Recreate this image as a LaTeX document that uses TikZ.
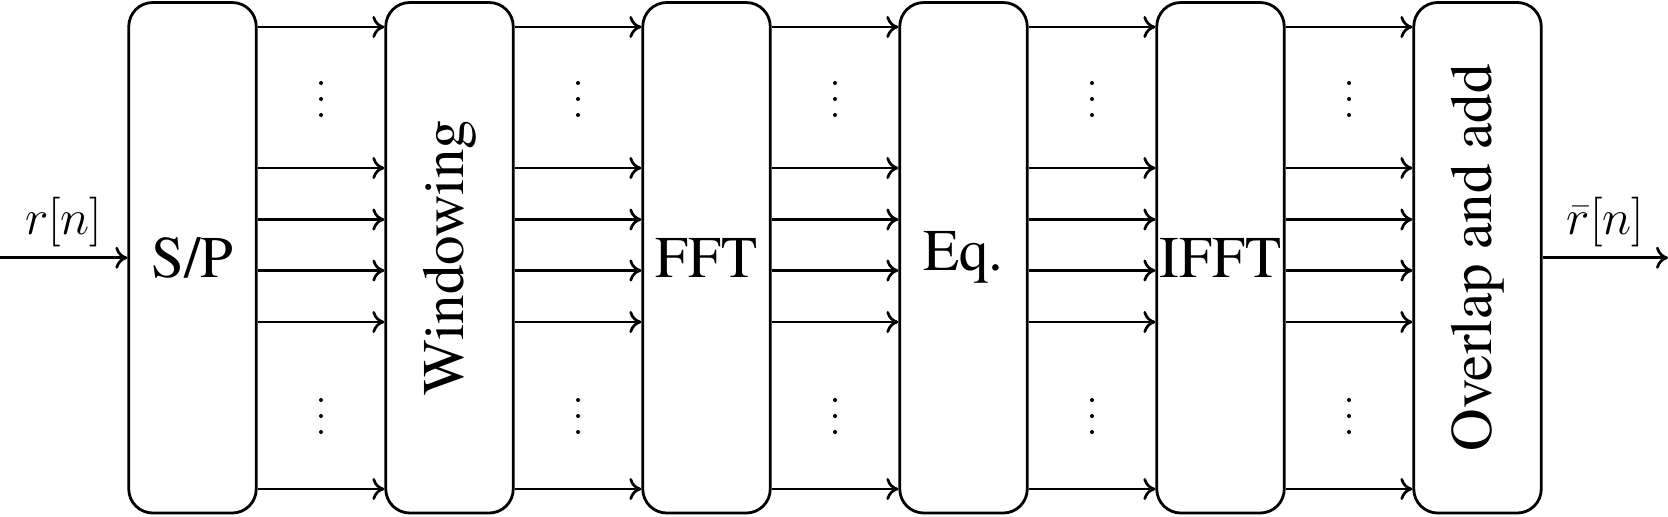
\documentclass[tikz,border=0pt]{standalone}
\usepackage{fontspec}
\setmainfont{texgyretermes-regular.otf}
\usetikzlibrary{arrows.meta}
\tikzset{
  blk/.style={draw, line width=1.4pt, rounded corners=12pt, inner sep=0pt,
    minimum width=63.75pt, minimum height=255.25pt,
    font=\rmfamily\fontsize{29.5}{34}\selectfont},
  arr/.style={line width=1.35pt, -{Computer Modern Rightarrow[length=6pt,width=11pt,line width=1.35pt]}},
  lab/.style={font=\fontsize{28.5}{33}\selectfont, inner xsep=0pt, inner ysep=5pt},
  dotc/.style={fill=black, draw=none, circle, minimum size=2pt, inner sep=0pt}
}
\begin{document}
\begin{tikzpicture}[x=0.5pt, y=-0.5pt]
\useasboundingbox (0,0) rectangle (1668,516);
\node[blk] (b0) at (192.5,257.75) {S/P};
\node[blk] (b1) at (449.5,257.75) {\rotatebox{90}{Windowing}};
\node[blk] (b2) at (706.5,257.75) {FFT};
\node[blk] (b3) at (963.5,257.75) {Eq.};
\node[blk] (b4) at (1220.5,257.75) {IFFT};
\node[blk] (b5) at (1477.5,257.75) {\rotatebox{90}{Overlap and add}};
\coordinate (in) at (0,257.75);
\coordinate (out) at (1668,257.75);
\draw[arr] (in) -- node[lab, above] {$r[n]$} (b0.west);
\draw[arr] (b5.east) -- node[lab, above] {$\bar{r}[n]$} (out);
\foreach \a/\b [count=\i from 0] in {b0/b1,b1/b2,b2/b3,b3/b4,b4/b5}{
  \foreach \y in {27,168,219.5,270.5,322,489}{
    \draw[arr] (\a.east |- 0,\y) -- (\b.west |- 0,\y);
  }
  \foreach \y in {83,99,115,400,416,432}{
    \node[dotc] (d\i-\y) at (321+257*\i,\y) {};
  }
}
\end{tikzpicture}
\end{document}
